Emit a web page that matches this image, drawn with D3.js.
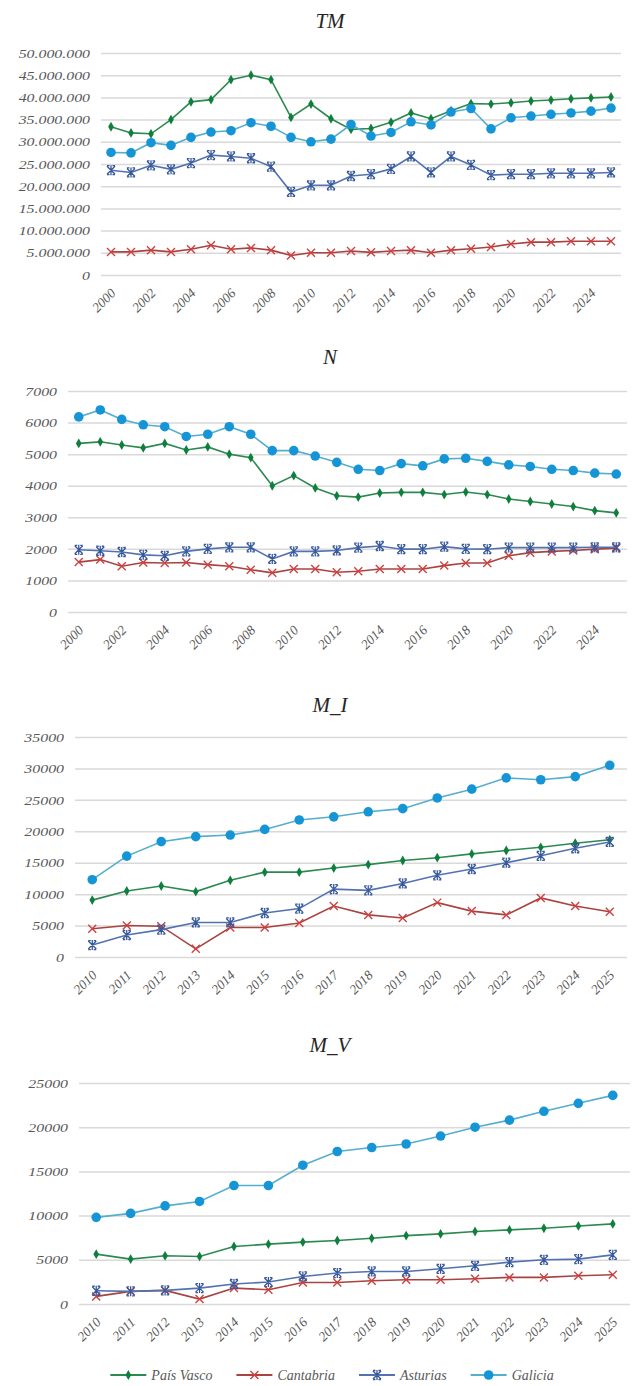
<!DOCTYPE html>
<html>
<head>
<meta charset="utf-8">
<script src="https://cdn.jsdelivr.net/npm/d3@7"></script>
<style>
  body { margin: 0; background: #ffffff; }
  svg text { font-family: "Liberation Serif", "Times New Roman", serif !important; font-style: italic; }
</style>
</head>
<body>
<svg id="chart" width="632" height="1386"></svg>
<script>
// Categories
const years2000 = ["2000","2001","2002","2003","2004","2005","2006","2007","2008","2009","2010","2011","2012",
                   "2013","2014","2015","2016","2017","2018","2019","2020","2021","2022","2023","2024","2025"];
const years2010 = ["2010","2011","2012","2013","2014","2015","2016","2017","2018","2019","2020","2021","2022",
                   "2023","2024","2025"];

const regions = ["País Vasco", "Cantabria", "Asturias", "Galicia"];

// TM
const tmPaisVasco = [33400000,32000000,31800000,35000000,39000000,39500000,44000000,45000000,44000000,35500000,
                     38500000,35200000,32800000,33000000,34400000,36500000,35200000,37000000,38600000,38500000,
                     38800000,39200000,39400000,39700000,39900000,40100000];
const tmCantabria = [5200000,5200000,5600000,5200000,5800000,6700000,5800000,6100000,5600000,4400000,
                     5000000,5000000,5400000,5100000,5400000,5600000,5000000,5600000,5900000,6300000,
                     7000000,7400000,7400000,7600000,7600000,7600000];
const tmAsturias  = [23600000,23100000,24700000,23800000,25200000,27000000,26700000,26300000,24400000,18700000,
                     20200000,20200000,22300000,22700000,23900000,26700000,23100000,26700000,24800000,22500000,
                     22700000,22700000,22900000,22900000,22900000,23100000];
const tmGalicia   = [27600000,27500000,29800000,29200000,31000000,32200000,32500000,34300000,33500000,31000000,
                     30000000,30600000,33900000,31300000,32100000,34500000,33800000,36700000,37500000,32900000,
                     35400000,35800000,36200000,36500000,36900000,37600000];

// N
const nPaisVasco = [5340,5390,5290,5200,5340,5130,5230,5000,4890,4000,4320,3930,3680,3640,3770,3790,3790,3720,
                    3800,3720,3580,3500,3420,3340,3210,3140];
const nCantabria = [1580,1660,1450,1570,1550,1570,1500,1450,1340,1240,1360,1360,1260,1290,1360,1360,1360,1470,
                    1550,1550,1780,1880,1920,1950,1990,2020];
const nAsturias  = [1970,1940,1900,1810,1780,1920,2000,2050,2050,1680,1920,1920,1950,2040,2090,1990,1990,2070,
                    2000,1990,2040,2040,2040,2040,2050,2050];
const nGalicia   = [6180,6400,6100,5930,5870,5560,5630,5870,5630,5110,5110,4940,4740,4520,4480,4700,4630,4850,
                    4870,4770,4660,4610,4520,4480,4400,4370];

// M_I
const miPaisVasco = [9050,10500,11300,10400,12200,13500,13500,14150,14700,15350,15800,16400,16950,17450,18100,18650];
const miCantabria = [4500,5000,4900,1300,4700,4700,5400,8100,6700,6200,8650,7300,6700,9400,8100,7200];
const miAsturias  = [1900,3500,4350,5500,5500,7000,7700,10800,10600,11700,13000,14000,15000,16100,17300,18300];
const miGalicia   = [12300,16050,18350,19150,19400,20300,21800,22300,23100,23600,25300,26700,28500,28200,28700,30500];

// M_V
const mvPaisVasco = [5640,5080,5450,5380,6500,6770,7000,7180,7440,7740,7930,8200,8380,8570,8830,9060];
const mvCantabria = [860,1430,1540,560,1800,1620,2440,2440,2630,2740,2740,2860,3010,3010,3200,3310];
const mvAsturias  = [1500,1430,1540,1800,2260,2480,3120,3500,3680,3680,3980,4320,4740,5000,5080,5560];
const mvGalicia   = [9800,10250,11100,11600,13400,13400,15700,17250,17700,18100,19000,20000,20800,21800,22700,23600];

// Series appearance
const styles = {
  "País Vasco": { line: "#2c8a50", mark: "#0f7f3c", shape: "dot" },
  "Cantabria":  { line: "#a9433f", mark: "#cf3f3f", shape: "x" },
  "Asturias":   { line: "#5273b0", mark: "#36589a", shape: "star" },
  "Galicia":    { line: "#55aece", mark: "#1595d6", shape: "circle" }
};

const SERIF = "'Liberation Serif', 'Times New Roman', serif";
const labelStretch = 1.22;

const dotFmt = d3.formatLocale({ decimal: ",", thousands: ".", grouping: [3], currency: ["", ""] }).format(",");
const plainFmt = d3.format("d");

const panels = [
  { title: "TM",  cats: years2000, data: [tmPaisVasco, tmCantabria, tmAsturias, tmGalicia],
    max: 50000000, step: 5000000, fmt: dotFmt, every: 2,
    left: 101, right: 621, top: 53, bottom: 275, titleY: 21 },
  { title: "N",   cats: years2000, data: [nPaisVasco, nCantabria, nAsturias, nGalicia],
    max: 7000, step: 1000, fmt: plainFmt, every: 2,
    left: 68, right: 627, top: 391, bottom: 612, titleY: 357 },
  { title: "M_I", cats: years2010, data: [miPaisVasco, miCantabria, miAsturias, miGalicia],
    max: 35000, step: 5000, fmt: plainFmt, every: 1,
    left: 75, right: 627, top: 737, bottom: 957, titleY: 705 },
  { title: "M_V", cats: years2010, data: [mvPaisVasco, mvCantabria, mvAsturias, mvGalicia],
    max: 25000, step: 5000, fmt: plainFmt, every: 1,
    left: 79, right: 630, top: 1083, bottom: 1304, titleY: 1045 }
];

const svg = d3.select("#chart");

function drawMarker(g, shape, color) {
  if (shape === "dot") {
    g.append("path").attr("d", d3.symbol(d3.symbolDiamond, 28)()).attr("fill", color);
  } else if (shape === "circle") {
    g.append("circle").attr("r", 4.8).attr("fill", color);
  } else if (shape === "x") {
    g.append("path").attr("d", "M-4,-4L4,4M-4,4L4,-4")
      .attr("stroke", color).attr("stroke-width", 1.4).attr("fill", "none");
  } else if (shape === "star") {
    g.append("path").attr("d", "M-4,-4L4,4M-4,4L4,-4M0,-5L0,5M-4,-4.5L-1.5,-4.5M1.5,-4.5L4,-4.5M-4,4.5L-1.5,4.5M1.5,4.5L4,4.5")
      .attr("stroke", color).attr("stroke-width", 1.3).attr("fill", "none");
  }
}

panels.forEach(p => {
  const x = d3.scalePoint().domain(p.cats).range([p.left, p.right]).padding(0.5);
  const y = d3.scaleLinear().domain([0, p.max]).range([p.bottom, p.top]);
  const g = svg.append("g");

  // Title
  g.append("text")
    .attr("x", 330).attr("y", p.titleY)
    .attr("dy", "0.35em")
    .attr("text-anchor", "middle")
    .attr("font-family", SERIF)
    .attr("font-style", "italic")
    .attr("font-size", 21)
    .attr("fill", "#262626")
    .text(p.title);

  // Y axis with gridlines
  const yAxis = d3.axisLeft(y)
    .tickValues(d3.range(0, p.max + 1, p.step))
    .tickSize(-(p.right - p.left))
    .tickPadding(11)
    .tickFormat(p.fmt);
  const ya = g.append("g").attr("transform", `translate(${p.left},0)`).call(yAxis)
    .attr("font-family", SERIF).attr("font-style", "italic").attr("font-size", 13);
  ya.select(".domain").remove();
  ya.selectAll(".tick line").attr("stroke", "#d9d9d9").attr("stroke-width", 1.5);
  ya.selectAll(".tick text")
    .attr("fill", "#595959")
    .attr("x", -11 / labelStretch)
    .attr("transform", `scale(${labelStretch},1)`);

  // X axis labels
  const xAxis = d3.axisBottom(x)
    .tickSize(0)
    .tickFormat((d, i) => (i % p.every === 0 ? d : ""));
  const xa = g.append("g").attr("transform", `translate(0,${p.bottom})`).call(xAxis)
    .attr("font-family", SERIF).attr("font-style", "italic").attr("font-size", 13.5);
  xa.select(".domain").remove();
  xa.selectAll(".tick text")
    .attr("fill", "#595959")
    .attr("text-anchor", "end")
    .attr("x", 0).attr("y", 0).attr("dy", 0)
    .attr("transform", "translate(5,19) rotate(-45)");

  // Series
  const line = d3.line().x((d, i) => x(p.cats[i])).y(d => y(d));
  p.data.forEach((vals, si) => {
    const st = styles[regions[si]];
    g.append("path")
      .datum(vals)
      .attr("d", line)
      .attr("fill", "none")
      .attr("stroke", st.line)
      .attr("stroke-width", 1.6);
    vals.forEach((v, i) => {
      const m = g.append("g").attr("transform", `translate(${x(p.cats[i])},${y(v)})`);
      drawMarker(m, st.shape, st.mark);
    });
  });
});

// Legend
const legend = svg.append("g").attr("transform", "translate(0,1375)");
const items = [];
regions.forEach(r => {
  const st = styles[r];
  const item = legend.append("g");
  item.append("line").attr("x1", 0).attr("x2", 36).attr("y1", 0).attr("y2", 0)
    .attr("stroke", st.line).attr("stroke-width", 1.8);
  drawMarker(item.append("g").attr("transform", "translate(18,0)"), st.shape, st.mark);
  const t = item.append("text").attr("x", 41).attr("dy", "0.35em")
    .attr("font-family", SERIF).attr("font-style", "italic")
    .attr("font-size", 14).attr("fill", "#595959").text(r);
  const w = 41 + t.node().getComputedTextLength();
  items.push({ item, w });
});
const gap = 24;
const total = d3.sum(items, d => d.w) + gap * (items.length - 1);
let cursor = 332 - total / 2;
items.forEach(d => {
  d.item.attr("transform", `translate(${cursor},0)`);
  cursor += d.w + gap;
});
</script>
</body>
</html>
